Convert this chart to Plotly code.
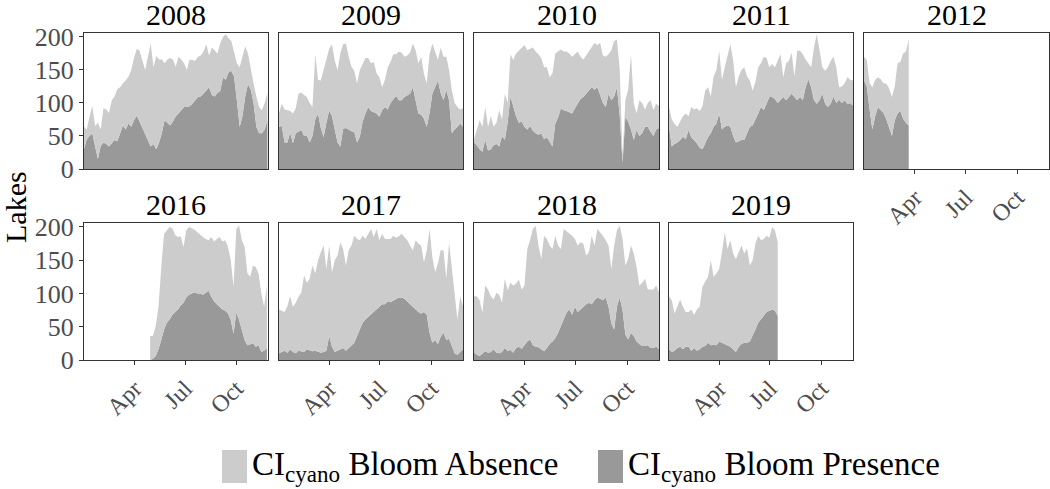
import pandas as pd
import plotly.graph_objects as go

# lakes observed per 5-day step: total (absence + presence) and bloom presence
years = [2008, 2009, 2010, 2011, 2012, 2016, 2017, 2018, 2019]
first_day = ["2008-01-01", "2009-01-01", "2010-01-01", "2011-01-01", "2012-01-01",
             "2016-04-29", "2017-01-01", "2018-01-01", "2019-01-01"]

t2008 = [64, 60, 80, 95, 65, 70, 60, 92, 90, 85, 104, 110, 121, 124, 130, 134, 140, 150, 168, 182,
         179, 166, 150, 170, 190, 154, 171, 166, 166, 160, 166, 168, 166, 155, 170, 166, 160, 150, 166, 165,
         164, 170, 172, 178, 189, 172, 184, 180, 175, 190, 200, 204, 198, 194, 178, 160, 154, 170, 186, 175,
         150, 130, 110, 94, 89, 100, 115]
p2008 = [30, 45, 50, 54, 34, 15, 35, 40, 38, 34, 39, 44, 42, 55, 66, 60, 69, 64, 74, 81,
         72, 62, 52, 45, 34, 38, 30, 40, 54, 74, 70, 66, 72, 80, 84, 89, 94, 94, 95, 99,
         104, 109, 110, 114, 119, 124, 112, 110, 115, 118, 139, 135, 146, 149, 140, 104, 64, 80, 110, 129,
         120, 100, 64, 54, 54, 60, 74]

t2009 = [85, 99, 90, 89, 88, 84, 92, 114, 116, 112, 109, 100, 94, 174, 135, 134, 150, 169, 182, 189,
         164, 150, 175, 189, 190, 170, 155, 149, 130, 150, 160, 168, 168, 160, 162, 145, 139, 124, 135, 154,
         162, 174, 174, 178, 176, 170, 172, 176, 190, 180, 160, 170, 144, 130, 174, 190, 178, 165, 184, 170,
         170, 150, 119, 100, 94, 90, 92]
p2009 = [64, 65, 40, 40, 55, 39, 54, 57, 59, 50, 51, 40, 50, 75, 84, 62, 48, 70, 89, 80,
         60, 40, 34, 61, 62, 59, 57, 56, 40, 49, 72, 84, 94, 88, 86, 84, 79, 89, 94, 90,
         100, 106, 111, 104, 104, 109, 111, 114, 124, 104, 84, 82, 76, 64, 85, 114, 124, 134, 115, 104,
         120, 104, 54, 60, 64, 69, 64]

t2010 = [45, 60, 74, 64, 94, 64, 80, 64, 70, 89, 75, 114, 100, 174, 165, 175, 179, 184, 188, 180,
         182, 184, 178, 174, 168, 154, 154, 139, 145, 175, 178, 181, 178, 178, 175, 170, 174, 178, 170, 166,
         172, 178, 185, 191, 188, 191, 172, 170, 174, 180, 194, 196, 150, 20, 104, 120, 174, 100, 84, 104,
         100, 90, 100, 104, 89, 99, 95]
p2010 = [40, 36, 30, 26, 44, 28, 30, 36, 38, 34, 50, 44, 70, 110, 95, 80, 70, 72, 64, 60,
         65, 58, 54, 52, 54, 45, 48, 40, 34, 69, 78, 92, 89, 88, 86, 84, 92, 100, 106, 109,
         114, 119, 124, 120, 124, 112, 100, 94, 114, 104, 110, 124, 80, 9, 79, 72, 60, 44, 59, 50,
         54, 64, 64, 56, 50, 60, 62]

t2011 = [94, 75, 68, 64, 72, 80, 84, 80, 94, 90, 92, 88, 95, 119, 124, 110, 140, 150, 179, 135,
         154, 170, 189, 165, 124, 140, 150, 154, 140, 134, 119, 132, 154, 160, 170, 168, 154, 159, 154, 164,
         174, 139, 160, 164, 176, 140, 179, 179, 174, 166, 160, 154, 184, 204, 180, 154, 149, 154, 164, 170,
         154, 124, 125, 130, 139, 135, 134]
p2011 = [64, 34, 38, 40, 44, 49, 45, 59, 48, 44, 39, 32, 30, 39, 48, 54, 64, 69, 84, 60,
         64, 66, 64, 50, 40, 42, 44, 44, 54, 64, 66, 74, 84, 94, 89, 99, 109, 109, 106, 100,
         104, 109, 104, 109, 114, 109, 104, 109, 104, 124, 136, 124, 104, 99, 104, 114, 99, 94, 99, 110,
         100, 105, 100, 104, 98, 100, 96]

t2012 = [170, 165, 130, 124, 135, 139, 136, 130, 129, 122, 109, 125, 160, 162, 175, 178, 196]
p2012 = [134, 125, 90, 60, 80, 94, 89, 85, 75, 64, 50, 74, 84, 88, 76, 70, 66]

t2016 = [36, 36, 51, 80, 140, 190, 195, 200, 198, 188, 185, 186, 170, 195, 200, 198, 196, 192, 188, 185,
         182, 180, 185, 178, 182, 185, 178, 180, 170, 150, 110, 197, 202, 180, 170, 130, 125, 142, 140, 130,
         100, 80, 112]
p2016 = [0, 2, 6, 16, 30, 46, 56, 61, 68, 72, 76, 82, 86, 94, 98, 100, 102, 100, 100, 98,
         101, 104, 95, 88, 84, 80, 76, 74, 70, 60, 40, 71, 60, 45, 30, 22, 24, 25, 20, 22,
         12, 14, 18]

t2017 = [76, 74, 72, 81, 96, 80, 86, 95, 101, 127, 116, 122, 142, 130, 150, 162, 172, 137, 172, 132,
         150, 157, 177, 167, 142, 165, 172, 187, 182, 180, 187, 182, 190, 197, 185, 197, 180, 190, 182, 182,
         182, 187, 184, 186, 190, 185, 180, 172, 165, 180, 175, 172, 147, 165, 197, 155, 132, 145, 165, 165,
         122, 177, 140, 100, 61, 96, 81]
p2017 = [10, 12, 14, 11, 16, 12, 10, 14, 13, 12, 16, 14, 13, 14, 12, 11, 12, 14, 36, 20,
         12, 14, 16, 18, 14, 18, 21, 26, 36, 46, 56, 61, 65, 68, 72, 76, 80, 84, 84, 88,
         87, 89, 91, 94, 94, 92, 88, 84, 80, 76, 72, 70, 72, 68, 41, 26, 30, 24, 35, 41,
         30, 32, 21, 10, 8, 12, 16]

t2018 = [96, 96, 90, 71, 112, 106, 96, 91, 101, 98, 86, 122, 105, 116, 112, 115, 121, 106, 112, 167,
         180, 197, 202, 172, 152, 187, 182, 172, 167, 187, 172, 167, 197, 194, 190, 187, 182, 172, 177, 175,
         157, 162, 187, 172, 197, 192, 187, 180, 172, 137, 172, 195, 202, 182, 142, 152, 172, 160, 140, 112,
         116, 122, 106, 106, 106, 112, 101]
p2018 = [12, 8, 6, 10, 13, 11, 12, 16, 11, 10, 12, 18, 14, 15, 11, 18, 20, 17, 22, 28,
         31, 22, 20, 19, 16, 13, 18, 24, 28, 33, 41, 51, 61, 71, 76, 68, 80, 72, 76, 80,
         84, 86, 84, 90, 94, 92, 90, 94, 80, 55, 46, 81, 94, 75, 38, 31, 41, 36, 28, 24,
         21, 21, 22, 18, 18, 20, 16]

t2019 = [96, 90, 70, 80, 91, 80, 72, 72, 76, 68, 76, 80, 110, 118, 125, 150, 125, 130, 137, 162,
         192, 167, 180, 160, 152, 162, 172, 160, 168, 142, 150, 175, 187, 180, 182, 187, 184, 200, 195, 177]
p2019 = [16, 12, 14, 18, 20, 16, 20, 20, 14, 18, 14, 16, 20, 21, 26, 22, 23, 22, 28, 26,
         24, 22, 20, 16, 12, 20, 24, 26, 26, 28, 36, 46, 56, 61, 66, 72, 74, 76, 74, 66]

totals = [t2008, t2009, t2010, t2011, t2012, t2016, t2017, t2018, t2019]
presence = [p2008, p2009, p2010, p2011, p2012, p2016, p2017, p2018, p2019]

W, H = 1050, 489
col_px = [(84, 268), (279, 463), (474, 659), (669, 853), (864, 1049)]
row_px = [(33, 169), (223, 360)]
cells = [(0, 0), (0, 1), (0, 2), (0, 3), (0, 4), (1, 0), (1, 1), (1, 2), (1, 3)]

LIGHT = "#cccccc"
DARK = "#999999"
FONT = "Liberation Serif"

fig = go.Figure()
annotations = []
for i, yr in enumerate(years):
    n = i + 1
    x = pd.date_range(first_day[i], periods=len(totals[i]), freq="5D")
    pres = presence[i]
    absn = [t - p for t, p in zip(totals[i], pres)]
    xa, ya = ("x", "y") if n == 1 else (f"x{n}", f"y{n}")
    fig.add_trace(go.Scatter(x=x, y=pres, stackgroup=f"g{n}", mode="lines",
                             line=dict(width=0), fillcolor=DARK,
                             showlegend=False, xaxis=xa, yaxis=ya))
    fig.add_trace(go.Scatter(x=x, y=absn, stackgroup=f"g{n}", mode="lines",
                             line=dict(width=0), fillcolor=LIGHT,
                             showlegend=False, xaxis=xa, yaxis=ya))

    r, c = cells[i]
    x0, x1 = col_px[c]
    y0, y1 = row_px[r]
    xdom = [x0 / W, x1 / W]
    ydom = [1 - y1 / H, 1 - y0 / H]
    show_x = r == 1 or yr == 2012
    show_y = c == 0
    key = "" if n == 1 else str(n)
    fig.layout[f"xaxis{key}"] = dict(
        domain=xdom, anchor=ya, type="date", automargin=False,
        range=[f"{yr}-01-01", f"{yr}-11-27"],
        tickvals=[f"{yr}-04-01", f"{yr}-07-01", f"{yr}-10-01"],
        ticktext=["Apr", "Jul", "Oct"],
        showticklabels=show_x, ticks="outside" if show_x else "",
        ticklen=4, tickcolor="#333333", tickangle=-45,
        tickfont=dict(family=FONT, size=24, color="#4d4d4d"),
        showline=True, mirror=True, linecolor="#333333", linewidth=1,
        showgrid=False, zeroline=False)
    fig.layout[f"yaxis{key}"] = dict(
        domain=ydom, anchor=xa, range=[0, 206], automargin=False,
        tickvals=[0, 50, 100, 150, 200],
        showticklabels=show_y, ticks="outside" if show_y else "",
        ticklen=4, tickcolor="#333333",
        tickfont=dict(family=FONT, size=26, color="#4d4d4d"),
        showline=True, mirror=True, linecolor="#333333", linewidth=1,
        showgrid=False, zeroline=False)
    annotations.append(dict(text=str(yr), x=(xdom[0] + xdom[1]) / 2, y=ydom[1],
                            xref="paper", yref="paper", xanchor="center", yanchor="bottom",
                            showarrow=False,
                            font=dict(family=FONT, size=30, color="black")))

annotations.append(dict(text="Lakes", x=15 / W, y=1 - 207 / H, xref="paper", yref="paper",
                        textangle=-90, showarrow=False, xanchor="center", yanchor="middle",
                        font=dict(family=FONT, size=30, color="black")))

# legend drawn by hand (tall swatches like the reference)
legend_items = [("CI<sub>cyano</sub> Bloom Absence", LIGHT, 222),
                ("CI<sub>cyano</sub> Bloom Presence", DARK, 598)]
shapes = []
for label, color, lx in legend_items:
    shapes.append(dict(type="rect", xref="paper", yref="paper",
                       x0=lx / W, x1=(lx + 25) / W, y0=1 - 483 / H, y1=1 - 450 / H,
                       fillcolor=color, line=dict(width=0)))
    annotations.append(dict(text=label, x=(lx + 28) / W, y=1 - 466 / H, xref="paper", yref="paper",
                            xanchor="left", yanchor="middle", showarrow=False,
                            font=dict(family=FONT, size=33, color="black")))

fig.update_layout(width=W, height=H, margin=dict(l=0, r=0, t=0, b=0),
                  plot_bgcolor="white", paper_bgcolor="white",
                  annotations=annotations, shapes=shapes, showlegend=False)

# drop the browser's default page margin so the figure sits at the window corner
fig.write_html("out.html", config={"displayModeBar": False},
               post_script="document.body.style.margin = '0px';")
